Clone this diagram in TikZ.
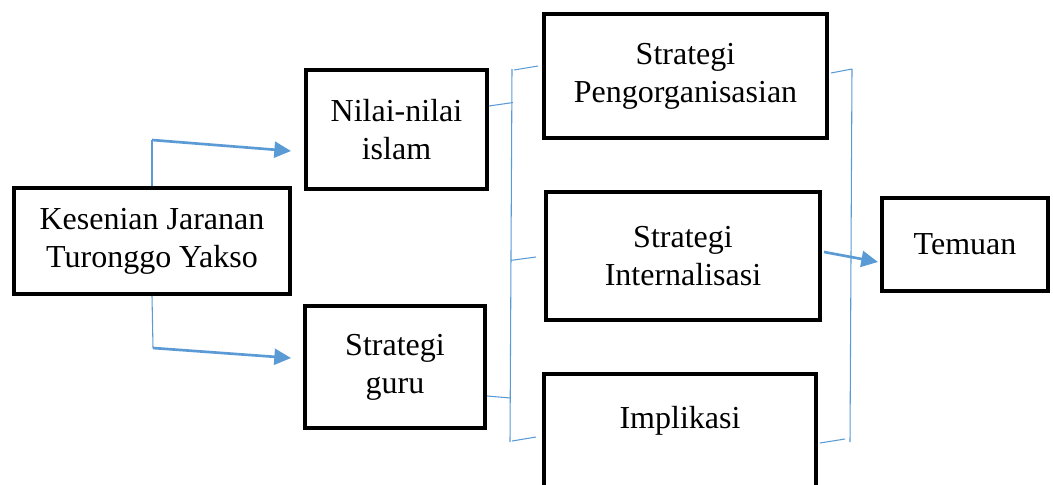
\documentclass[tikz,border=0pt]{standalone}
\usepackage{fontspec}
\setmainfont{Liberation Serif}
\usetikzlibrary{arrows.meta,calc}
\definecolor{lblue}{HTML}{5B9BD5}
\begin{document}
\begin{tikzpicture}[x=0.75pt,y=-0.75pt,
  box/.style={draw=black,line width=3pt,align=center,inner sep=0pt,
    font=\fontsize{24}{28.5}\selectfont},
  thinline/.style={draw=lblue,line width=0.8pt},
  arr/.style={draw=lblue,line width=2pt,-{Triangle[length=12.5pt,width=12pt]}}]
\useasboundingbox (0,0) rectangle (1053,485);
\clip (0,0) rectangle (1053,485);
% boxes
\node[box,minimum width=207pt,minimum height=79.5pt] (kes) at (152,241) {Kesenian Jaranan\\Turonggo Yakso};
\node[box,minimum width=135.75pt,minimum height=89.25pt] (nilai) at (396.5,129.5) {Nilai-nilai\\islam};
\node[box,minimum width=135pt,minimum height=91.5pt] (guru) at (395,367) {Strategi\\guru};
\node[box,minimum width=212.25pt,minimum height=93pt] (peng) at (685.5,76) {Strategi\\Pengorganisasian};
\node[box,minimum width=205.5pt,minimum height=96pt] (intern) at (683,256) {Strategi\\Internalisasi};
\node[box,minimum width=204pt,minimum height=102pt] (impl) at (680,442) {Implikasi\\\strut};
\node[box,minimum width=124.5pt,minimum height=69.75pt] (temuan) at (965,244.5) {Temuan};
% left connectors
\coordinate (k1) at (152,140);
\coordinate (k2) at (153,348);
\draw[thinline] (kes.north) -- (k1);
\draw[arr] (k1) -- ($(nilai.west)+(-13,21.5)$);
\draw[thinline] (kes.south) -- (k2);
\draw[arr] (k2) -- ($(guru.west)+(-12,-9)$);
% left bracket
\coordinate (lt) at (512,69);
\coordinate (lb) at (510,442);
\draw[thinline] (lt) -- (lb);
\draw[thinline] ($(lt)+(2,1)$) -- ($(peng.west)+(-4,-10)$);
\draw[thinline] ($(nilai.east)+(0,-23.5)$) -- ($(lt)!0.09!(lb)+(1,0)$);
\draw[thinline] ($(lt)!0.513!(lb)+(0,0)$) -- ($(intern.west)+(-8,1)$);
\draw[thinline] ($(guru.east)+(0,29)$) -- ($(lt)!0.882!(lb)$);
\draw[thinline] ($(lb)+(2,-1)$) -- ($(impl.west)+(-6,-5)$);
% right bracket
\coordinate (rt) at (852,69);
\coordinate (rb) at (850,442);
\draw[thinline] (rt) -- (rb);
\draw[thinline] ($(peng.east)+(2,-3)$) -- (rt);
\draw[thinline] ($(impl.east)+(2,1)$) -- ($(rb)+(-5,-3)$);
\draw[arr] ($(intern.east)+(2,-4)$) -- ($(temuan.west)+(-2,17.5)$);
\end{tikzpicture}
\end{document}
